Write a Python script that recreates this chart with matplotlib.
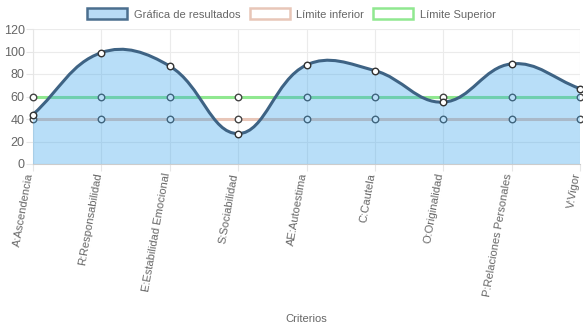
import matplotlib
matplotlib.use("Agg")
import matplotlib.pyplot as plt
import numpy as np
from matplotlib.path import Path
from matplotlib.patches import PathPatch, Rectangle

# Data
criterios = ["A:Ascendencia", "R:Responsabilidad", "E:Estabilidad Emocional",
             "S:Sociabilidad", "AE:Autoestima", "C:Cautela", "O:Originalidad",
             "P:Relaciones Personales", "V:Vigor"]
resultados = [44, 99, 87, 27, 88, 83, 55, 89, 67]
limite_inferior = [40, 40, 40, 40, 40, 40, 40, 40, 40]
limite_superior = [60, 60, 60, 60, 60, 60, 60, 60, 60]
y_ticks = [0, 20, 40, 60, 80, 100, 120]

plt.rcParams['font.family'] = ['Liberation Sans', 'DejaVu Sans']

fig = plt.figure(figsize=(5.83, 3.28), dpi=100)
ax = fig.add_axes([33 / 583, 1 - 164 / 328, 547 / 583, 135 / 328])

x = np.arange(len(criterios))
ax.set_xlim(0, len(criterios) - 1)
ax.set_ylim(0, 120)

# pixel scale, used for the chart.js style spline tension
sx = 547 / (len(criterios) - 1)
sy = 135 / 120


def spline_path(xs, ys, tension=0.4, close_to=None):
    # cubic bezier through all points, control points like chart.js splineCurve
    px = np.array(xs, float) * sx
    py = np.array(ys, float) * sy
    n = len(px)
    cps = []
    for i in range(n):
        p = max(i - 1, 0)
        q = min(i + 1, n - 1)
        d01 = np.hypot(px[i] - px[p], py[i] - py[p])
        d12 = np.hypot(px[q] - px[i], py[q] - py[i])
        tot = d01 + d12
        s01 = d01 / tot if tot else 0
        s12 = d12 / tot if tot else 0
        fa = tension * s01
        fb = tension * s12
        c1 = (px[i] - fa * (px[q] - px[p]), py[i] - fa * (py[q] - py[p]))
        c2 = (px[i] + fb * (px[q] - px[p]), py[i] + fb * (py[q] - py[p]))
        cps.append((c1, c2))
    verts = [(px[0] / sx, py[0] / sy)]
    codes = [Path.MOVETO]
    for i in range(1, n):
        a = cps[i - 1][1]
        b = cps[i][0]
        verts += [(a[0] / sx, a[1] / sy), (b[0] / sx, b[1] / sy), (px[i] / sx, py[i] / sy)]
        codes += [Path.CURVE4] * 3
    if close_to is not None:
        verts += [(xs[-1], close_to), (xs[0], close_to), (xs[0], ys[0])]
        codes += [Path.LINETO, Path.LINETO, Path.CLOSEPOLY]
    return Path(verts, codes)


# grid
ax.set_yticks(y_ticks)
ax.set_xticks(x)
ax.grid(True, color="#ebebeb", linewidth=0.8, zorder=0)
ax.set_axisbelow(True)
for s in ["top", "right"]:
    ax.spines[s].set_visible(False)
ax.spines["left"].set_color("#e6e6e6")
ax.spines["bottom"].set_color("#cccccc")

c_res = "#3e6384"
c_inf = "#e8c6b8"
c_sup = "#90e890"

# limits (drawn under the filled result)
ax.plot(x, limite_superior, color=c_sup, lw=2.2, zorder=2, clip_on=False)
ax.plot(x, limite_inferior, color=c_inf, lw=2.2, zorder=2, clip_on=False)
ax.scatter(x, limite_superior, s=22, facecolor="white", edgecolor="#444444",
           linewidth=1, zorder=3, clip_on=False)
ax.scatter(x, limite_inferior, s=22, facecolor="white", edgecolor="#444444",
           linewidth=1, zorder=3, clip_on=False)

# result area + line
ax.add_patch(PathPatch(spline_path(x, resultados, close_to=0), facecolor="#36a2eb",
                       alpha=0.35, edgecolor="none", zorder=4))
ax.add_patch(PathPatch(spline_path(x, resultados), facecolor="none",
                       edgecolor=c_res, lw=2.2, zorder=5, clip_on=False))
ax.scatter(x, resultados, s=22, facecolor="white", edgecolor="#333333",
           linewidth=1, zorder=6, clip_on=False)

ax.set_xticklabels(criterios, rotation=80, ha="right", va="baseline",
                   rotation_mode="anchor", fontsize=8, color="#666666")
ax.tick_params(axis="x", length=5, color="#e6e6e6", pad=2)
ax.tick_params(axis="y", length=5, color="#e6e6e6", labelsize=9, labelcolor="#666666", pad=1)
ax.set_xlabel("Criterios", fontsize=8, color="#666666")
ax.xaxis.set_label_coords(0.5, -1.11)

# legend
handles = [Rectangle((0, 0), 1, 1, facecolor="#b8dbf6", edgecolor="#4b6e8e", lw=1.8),
           Rectangle((0, 0), 1, 1, facecolor="white", edgecolor=c_inf, lw=1.8),
           Rectangle((0, 0), 1, 1, facecolor="white", edgecolor=c_sup, lw=1.8)]
fig.legend(handles, ["Gráfica de resultados", "Límite inferior", "Límite Superior"],
           loc="center", bbox_to_anchor=(0.5, 1 - 14 / 328), ncol=3, frameon=False,
           fontsize=8, handlelength=3.6, handleheight=1.1, handletextpad=0.6,
           columnspacing=0.8, labelcolor="#666666")

fig.savefig("out.png", dpi=100)
